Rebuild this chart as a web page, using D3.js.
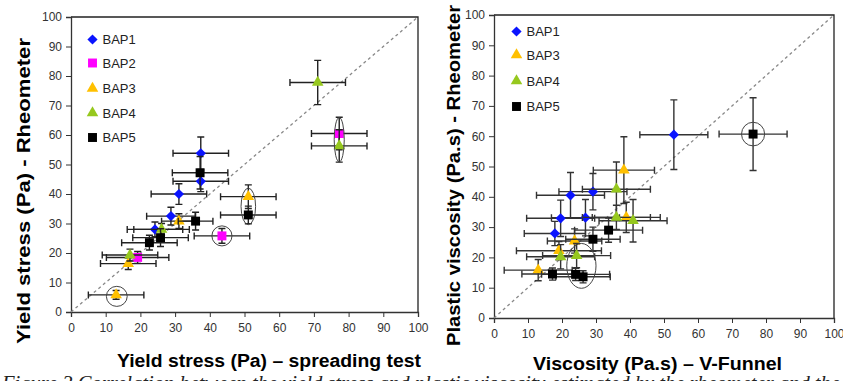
<!DOCTYPE html>
<html><head><meta charset="utf-8">
<script src="https://cdn.jsdelivr.net/npm/d3@7"></script>
<style>
body{margin:0;background:#fff;}
svg{display:block;}
</style></head>
<body><svg id="c" width="843" height="381"></svg>
<script>
// ---------- data ----------
const seriesNames = ["BAP1","BAP2","BAP3","BAP4","BAP5"];
const seriesColors = ["#0a14ff","#ff00ff","#ffc000","#96c81e","#000000"];
const seriesShapes = ["diamond","square","triangle","triangle","square"];
const ticks = [0,10,20,30,40,50,60,70,80,90,100];

// left chart: [spreading test x, rheometer y, x error, y error]
const yieldBAP1 = [[24.2,28,8,2.5],[28.8,32.5,7,3],[31.1,40,8,3.5],[37.4,44.3,8,3.5],[37.4,53.8,8,5.5]];
const yieldBAP2 = [[19.2,18.5,9,2],[43.5,25.8,8,2.5],[77.3,60.5,8,5.5]];
const yieldBAP3 = [[13,5.8,8,1.5],[16.5,16.4,8,2],[31.1,30.8,5,2.5],[51.1,39.1,8,4]];
const yieldBAP4 = [[17,19.3,8,2],[26.1,28,8,2],[71.1,77.8,8,7.5],[77.3,56.3,8,5.5]];
const yieldBAP5 = [[22.6,23.5,8,2.5],[25.8,25.2,8,3],[35.9,30.8,5,3],[37.2,47.2,8,5.5],[51.1,32.9,8,3]];

// right chart: [V-funnel viscosity x, rheometer plastic viscosity y, x error, y error]
const viscBAP1 = [[17.9,27.9,9,4],[19.6,32.9,10,6],[26.9,33.1,10,6],[22.5,40.5,10,7.5],[29.1,41.7,10,6],[52.9,60.5,10,11.5]];
const viscBAP3 = [[13,15.8,10,3.5],[19.1,22.2,12.5,3],[23.7,25.4,8,4],[38.9,33.2,10,5],[38.2,48.8,9,11]];
const viscBAP4 = [[19.6,20.2,10,4],[24.3,20.6,10,4],[36,33.2,10,4],[40.9,32.1,10,7],[36,42.5,10,9]];
const viscBAP5 = [[17.2,14.5,9,2],[24,14.4,10,2],[26.2,13.6,8,2],[29.1,26,8,4],[33.7,29,10,4],[76.2,60.7,10,12]];

// highlighted groups (data units): [cx, cy, rx, ry]
const yieldCircles = [[13.2,5.3,3,3.4],[43.5,25.8,2.9,3.4],[51.1,35.8,2.1,6.2],[77.3,58.4,1.45,7.5]];
const viscCircles = [[25.7,17.2,4.3,7.4],[76.2,60.7,3.4,3.9]];

const xTitleL = "Yield stress (Pa) \u2013 spreading test";
const yTitleL = "Yield stress (Pa) - Rheometer";
const xTitleR = "Viscosity  (Pa.s) \u2013 V-Funnel";
const yTitleR = "Plastic viscosity (Pa.s) - Rheometer";
const caption = "Figure 3 Correlation between the yield stress and plastic viscosity estimated by the rheometer and the";

// ---------- drawing ----------
const svg = d3.select("#c");
const tickFont = "'Liberation Sans Narrow','Arial Narrow','Liberation Sans',Arial,sans-serif";

function symbolPath(shape){
  if(shape==="diamond") return d3.symbol().type(d3.symbolSquare).size(52)();
  if(shape==="square") return d3.symbol().type(d3.symbolSquare).size(80)();
  return d3.symbol().type(d3.symbolTriangle).size(58)();
}

function drawChart(cfg){
  const g = svg.append("g");
  const x = d3.scaleLinear().domain([0,100]).range(cfg.xr);
  const y = d3.scaleLinear().domain([0,100]).range(cfg.yr);

  g.append("path")
    .attr("d",`M${x(0)},${y(100)}H${x(100)}V${y(0)}`)
    .attr("fill","none").attr("stroke","#222").attr("stroke-width",1.3);

  const ax = g.append("g").attr("transform",`translate(0,${y(0)})`)
    .call(d3.axisBottom(x).tickValues(ticks).tickSize(5).tickPadding(6).tickFormat(d3.format("d")));
  const ay = g.append("g").attr("transform",`translate(${x(0)},0)`)
    .call(d3.axisLeft(y).tickValues(ticks).tickSize(5).tickPadding(4).tickFormat(d3.format("d")));
  [ax,ay].forEach(a=>{
    a.select(".domain").attr("stroke","#333").attr("stroke-width",1.3);
    a.selectAll(".tick line").attr("stroke","#333").attr("stroke-width",1);
    a.selectAll(".tick text").attr("font-family",tickFont).attr("font-size",12).attr("fill","#333");
  });

  g.append("line")
    .attr("x1",x(0)).attr("y1",y(0)).attr("x2",x(100)).attr("y2",y(100))
    .attr("stroke","#888").attr("stroke-width",1.3).attr("stroke-dasharray","3,3");

  cfg.series.forEach(s=>{
    const idx = seriesNames.indexOf(s.name);
    const eb = g.append("g").attr("stroke",cfg.ebColor).attr("stroke-width",1.4).attr("fill","none");
    s.data.forEach(d=>{
      const cx=x(d[0]), cy=y(d[1]);
      const x1=x(d[0]-d[2]), x2=x(d[0]+d[2]), y1=y(d[1]-d[3]), y2=y(d[1]+d[3]);
      eb.append("path").attr("d",
        `M${x1},${cy}H${x2}M${x1},${cy-3.5}v7M${x2},${cy-3.5}v7`+
        `M${cx},${y1}V${y2}M${cx-3.5},${y1}h7M${cx-3.5},${y2}h7`);
    });
    g.append("g").selectAll("path").data(s.data).join("path")
      .attr("d",symbolPath(seriesShapes[idx]))
      .attr("transform",d=>`translate(${x(d[0])},${y(d[1])})`+(seriesShapes[idx]==="diamond"?" rotate(45)":""))
      .attr("fill",seriesColors[idx]);
  });

  g.append("g").selectAll("ellipse").data(cfg.circles).join("ellipse")
    .attr("cx",d=>x(d[0])).attr("cy",d=>y(d[1]))
    .attr("rx",d=>x(d[2])-x(0)).attr("ry",d=>y(0)-y(d[3]))
    .attr("fill","none").attr("stroke","#444").attr("stroke-width",1);

  const lg = g.append("g");
  cfg.series.forEach((s,i)=>{
    const idx = seriesNames.indexOf(s.name);
    const ly = cfg.legY[i];
    lg.append("path").attr("d",symbolPath(seriesShapes[idx]))
      .attr("transform",`translate(${cfg.legX},${ly})`+(seriesShapes[idx]==="diamond"?" rotate(45)":""))
      .attr("fill",seriesColors[idx]);
    lg.append("text").attr("x",cfg.legX+10).attr("y",ly+4.5)
      .attr("font-family",tickFont).attr("font-size",13).attr("fill","#222").text(s.name);
  });

  g.append("text").attr("x",cfg.xTitle[0]).attr("y",cfg.xTitle[1])
    .attr("font-family","'Liberation Sans',Arial,sans-serif").attr("font-weight","bold")
    .attr("font-size",18).attr("textLength",cfg.xTitle[2]).attr("lengthAdjust","spacingAndGlyphs")
    .attr("fill","#000").text(cfg.xTitleText);
  g.append("text").attr("transform",`translate(${cfg.yTitle[0]},${cfg.yTitle[1]}) rotate(-90)`)
    .attr("font-family","'Liberation Sans',Arial,sans-serif").attr("font-weight","bold")
    .attr("font-size",18).attr("textLength",cfg.yTitle[2]).attr("lengthAdjust","spacingAndGlyphs")
    .attr("fill","#000").text(cfg.yTitleText);
}

drawChart({
  xr:[71,418], yr:[312,17], ebColor:"#222",
  series:[{name:"BAP1",data:yieldBAP1},{name:"BAP2",data:yieldBAP2},{name:"BAP3",data:yieldBAP3},{name:"BAP4",data:yieldBAP4},{name:"BAP5",data:yieldBAP5}],
  circles:yieldCircles,
  legX:92.5, legY:[39.5,63,88.5,113,137.5],
  xTitle:[117,367,304], xTitleText:xTitleL,
  yTitle:[30,344,306], yTitleText:yTitleL
});
drawChart({
  xr:[494,834], yr:[318,15], ebColor:"#333",
  series:[{name:"BAP1",data:viscBAP1},{name:"BAP3",data:viscBAP3},{name:"BAP4",data:viscBAP4},{name:"BAP5",data:viscBAP5}],
  circles:viscCircles,
  legX:516.5, legY:[31.5,55,81,106.5],
  xTitle:[533,370,249], xTitleText:xTitleR,
  yTitle:[460,346,341], yTitleText:yTitleR
});

svg.append("text").attr("x",2).attr("y",390)
  .attr("font-family","'Liberation Serif','Times New Roman',serif").attr("font-style","italic")
  .attr("font-size",20).attr("textLength",838).attr("lengthAdjust","spacingAndGlyphs")
  .attr("fill","#222").text(caption);
</script></body></html>
